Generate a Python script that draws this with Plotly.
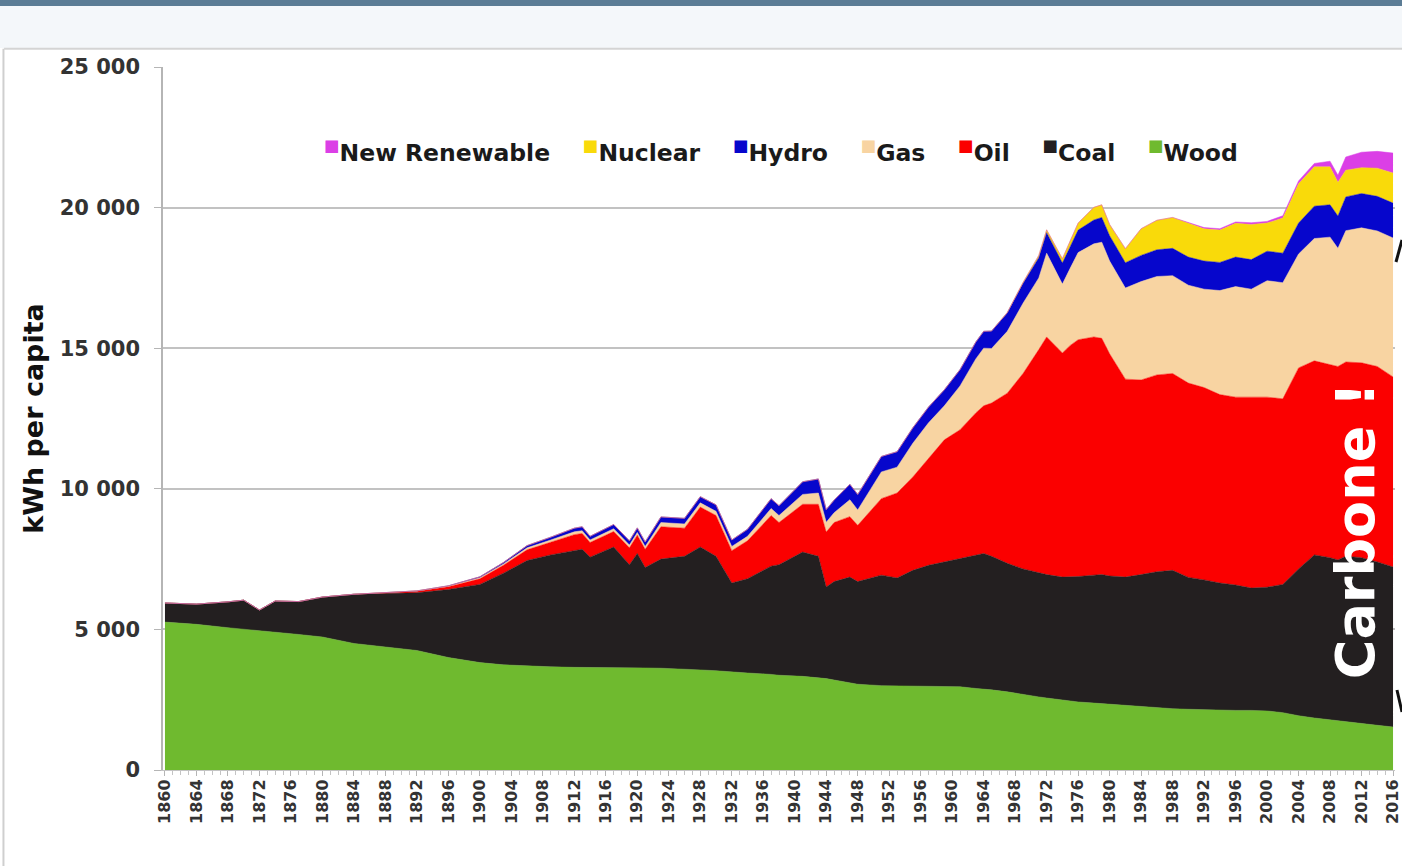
import plotly.graph_objects as go

# world primary energy per capita (kWh per capita, stacked)
years = [
    1860, 1864, 1868, 1870, 1872, 1874, 1877, 1880, 1884, 1888,
    1892, 1896, 1900, 1903, 1906, 1909, 1912, 1913, 1914, 1917,
    1919, 1920, 1921, 1923, 1926, 1928, 1930, 1932, 1934, 1937,
    1938, 1941, 1943, 1944, 1945, 1947, 1948, 1951, 1953, 1955,
    1957, 1959, 1961, 1963, 1964, 1965, 1967, 1969, 1971, 1972,
    1974, 1975, 1976, 1978, 1979, 1980, 1982, 1984, 1986, 1988,
    1990, 1992, 1994, 1996, 1998, 2000, 2002, 2004, 2006, 2008,
    2009, 2010, 2012, 2014, 2016,
]
wood = [
    5260, 5180, 5060, 5000, 4950, 4900, 4820, 4730, 4500, 4380,
    4250, 4000, 3820, 3740, 3700, 3670, 3650, 3650, 3650, 3640,
    3640, 3630, 3630, 3620, 3600, 3560, 3530, 3480, 3450, 3400,
    3370, 3330, 3280, 3250, 3200, 3100, 3050, 3000, 2990, 2990,
    2990, 2980, 2960, 2900, 2880, 2850, 2780, 2680, 2600, 2560,
    2480, 2450, 2420, 2380, 2360, 2330, 2280, 2240, 2210, 2180,
    2160, 2140, 2130, 2120, 2120, 2100, 2040, 1930, 1850, 1780,
    1750, 1720, 1650, 1590, 1530,
]
coal = [
    680, 720, 920, 1040, 740, 1110, 1170, 1420, 1750, 1900,
    2050, 2420, 2780, 3260, 3750, 3980, 4170, 4200, 3920, 4290,
    3660, 4070, 3570, 3880, 4000, 4370, 4070, 3170, 3350, 3850,
    3930, 4420, 4320, 3260, 3500, 3760, 3650, 3930, 3840, 4110,
    4290, 4420, 4560, 4750, 4820, 4750, 4570, 4470, 4400, 4390,
    4380, 4410, 4460, 4550, 4590, 4570, 4580, 4710, 4840, 4920,
    4690, 4620, 4520, 4460, 4350, 4400, 4560, 5220, 5800, 5770,
    5720, 5880, 5900, 5810, 5690,
]
oil = [
    0, 0, 0, 0, 0, 0, 0, 0, 0, 30,
    60, 100, 200, 280, 380, 450, 550, 560, 520, 550,
    600, 650, 650, 1150, 1000, 1420, 1450, 1150, 1350, 1800,
    1500, 1700, 1850, 1950, 2100, 2150, 2000, 2720, 3020, 3320,
    3820, 4340, 4580, 5050, 5250, 5450, 6050, 6950, 7950, 8450,
    7970, 8240, 8420, 8470, 8400, 7900, 7040, 6920, 7000, 7000,
    6910, 6840, 6700, 6680, 6790, 6760, 6600, 7150, 6900, 6850,
    6880, 6910, 6930, 6950, 6760,
]
gas = [
    0, 0, 0, 0, 0, 0, 0, 0, 0, 0,
    10, 20, 40, 50, 70, 80, 100, 100, 90, 100,
    100, 100, 100, 150, 150, 150, 150, 150, 160, 250,
    250, 350, 400, 350, 350, 600, 550, 950, 920, 1200,
    1250, 1210, 1560, 1920, 2050, 1940, 2200, 2500, 2550, 2980,
    2450, 2750, 3100, 3310, 3420, 3300, 3240, 3500, 3500, 3480,
    3480, 3500, 3700, 3930, 3840, 4140, 4130, 4050, 4350, 4550,
    4200, 4670, 4800, 4820, 4940,
]
hydro = [
    0, 0, 0, 0, 0, 0, 0, 0, 0, 0,
    0, 10, 30, 50, 80, 100, 130, 140, 130, 150,
    150, 160, 160, 200, 200, 220, 230, 230, 250, 350,
    350, 450, 500, 450, 450, 550, 550, 550, 550, 550,
    560, 570, 580, 600, 600, 620, 650, 700, 720, 730,
    750, 770, 800, 850, 880, 900, 900, 930, 950, 970,
    1000, 1000, 1000, 1050, 1050, 1050, 1050, 1100, 1150, 1150,
    1150, 1200, 1220, 1230, 1240,
]
nuclear = [
    0, 0, 0, 0, 0, 0, 0, 0, 0, 0,
    0, 0, 0, 0, 0, 0, 0, 0, 0, 0,
    0, 0, 0, 0, 0, 0, 0, 0, 0, 0,
    0, 0, 0, 0, 0, 0, 0, 0, 0, 0,
    0, 0, 0, 0, 0, 0, 20, 40, 80, 100,
    150, 200, 250, 450, 450, 400, 500, 950, 1050, 1100,
    1200, 1150, 1150, 1200, 1250, 1000, 1250, 1400, 1400, 1350,
    1200, 950, 920, 1000, 1070,
]
new_renewable = [
    0, 0, 0, 0, 0, 0, 0, 0, 0, 0,
    0, 0, 0, 0, 0, 0, 0, 0, 0, 0,
    0, 0, 0, 0, 0, 0, 0, 0, 0, 0,
    0, 0, 0, 0, 0, 0, 0, 0, 0, 0,
    0, 0, 0, 0, 0, 0, 0, 0, 0, 0,
    0, 0, 0, 0, 0, 0, 0, 0, 0, 0,
    30, 40, 50, 50, 60, 60, 80, 100, 120, 200,
    250, 470, 550, 600, 710,
]

# bottom -> top stacking order
series_names = ["Wood", "Coal", "Oil", "Gas", "Hydro", "Nuclear", "New Renewable"]
series_values = [wood, coal, oil, gas, hydro, nuclear, new_renewable]
series_colors = ["#6fba2f", "#231f20", "#fb0000", "#f8d4a2", "#0606cc", "#f9da0a", "#db3fe6"]

x_tick_years = list(range(1860, 2017, 4))
y_tick_vals = [0, 5000, 10000, 15000, 20000, 25000]
y_tick_text = ["0", "5 000", "10 000", "15 000", "20 000", "25 000"]

FONT = "DejaVu Sans"


def legend_text() -> str:
    # legend reads top layer first, like the original
    parts = []
    for name, color in zip(reversed(series_names), reversed(series_colors)):
        parts.append(f'<sup><span style="color:{color}">■</span></sup>{name}')
    return "&nbsp;&nbsp;&nbsp;&nbsp;".join(parts)


def make_figure() -> go.Figure:
    fig = go.Figure()
    for name, vals, color in zip(series_names, series_values, series_colors):
        fig.add_trace(
            go.Scatter(
                x=years,
                y=vals,
                name=name,
                mode="lines",
                stackgroup="energy",
                line=dict(width=0.5, color=color),
                fillcolor=color,
                showlegend=False,
            )
        )

    fig.update_xaxes(
        range=[1859.75, 2016.25],
        tickmode="array",
        tickvals=x_tick_years,
        ticktext=[str(y) for y in x_tick_years],
        tickangle=-90,
        tickfont=dict(family=FONT, size=16, color="#333333", weight="bold"),
        ticks="outside",
        ticklen=5,
        tickcolor="#b5b5b5",
        ticklabelstandoff=-3,
        ticklabeloverflow="allow",
        automargin=False,
        minor=dict(dtick=1, tick0=1860, ticks="outside", ticklen=4, tickcolor="#c4c4c4", showgrid=False),
        showline=True,
        linecolor="#c4c4c4",
        showgrid=False,
        zeroline=False,
    )
    fig.update_yaxes(
        range=[0, 25000],
        tickmode="array",
        tickvals=y_tick_vals,
        ticktext=y_tick_text,
        tickfont=dict(family=FONT, size=21, color="#333333", weight="bold"),
        ticks="outside",
        ticklen=7,
        tickcolor="#b5b5b5",
        ticklabelstandoff=10,
        automargin=False,
        showline=True,
        linecolor="#b5b5b5",
        linewidth=1.5,
        showgrid=True,
        gridcolor="#c2c2c2",
        gridwidth=1.5,
        zeroline=False,
        title=dict(
            text="kWh per capita",
            font=dict(family=FONT, size=27, color="#111111", weight="bold"),
            standoff=8,
        ),
    )

    fig.add_annotation(
        text=legend_text(),
        xref="paper", yref="paper",
        x=0.5016, y=0.880,
        xanchor="center", yanchor="middle",
        showarrow=False,
        font=dict(family=FONT, size=23.5, color="#1a1a1a", weight="bold"),
    )
    fig.add_annotation(
        text="Carbone !",
        xref="paper", yref="paper",
        x=0.9675, y=0.341,
        xanchor="center", yanchor="middle",
        textangle=-90,
        showarrow=False,
        font=dict(family=FONT, size=54, color="#ffffff", weight="bold"),
    )

    # slide chrome around the chart
    fig.add_shape(type="rect", xref="paper", yref="paper",
                  x0=-0.14, x1=1.01, y0=1.0868, y1=1.10,
                  fillcolor="#5b7c95", line_width=0, layer="above")
    fig.add_shape(type="rect", xref="paper", yref="paper",
                  x0=-0.14, x1=1.01, y0=1.027, y1=1.0868,
                  fillcolor="#f4f7fa", line_width=0, layer="above")
    fig.add_shape(type="line", xref="paper", yref="paper",
                  x0=-0.129, x1=1.01, y0=1.026, y1=1.026,
                  line=dict(color="#d4d4d4", width=2), layer="above")
    fig.add_shape(type="line", xref="paper", yref="paper",
                  x0=-0.1295, x1=-0.1295, y0=-0.14, y1=1.026,
                  line=dict(color="#cfcfcf", width=2), layer="above")
    # ends of the brace that is cut off at the right edge of the slide
    fig.add_shape(type="line", xref="paper", yref="paper",
                  x0=1.0008, y0=0.7226, x1=1.0057, y1=0.7539,
                  line=dict(color="#111111", width=3), layer="above")
    fig.add_shape(type="line", xref="paper", yref="paper",
                  x0=1.0016, y0=0.1138, x1=1.0057, y1=0.0825,
                  line=dict(color="#111111", width=3), layer="above")

    fig.update_layout(
        width=1402,
        height=866,
        margin=dict(l=163, r=7, t=67, b=96),
        paper_bgcolor="#ffffff",
        plot_bgcolor="#ffffff",
        showlegend=False,
        font=dict(family=FONT),
    )
    return fig


def main() -> int:
    fig = make_figure()
    # drop the browser's default body margin so the figure sits at the page corner
    fig.write_html(
        "out.html",
        config={"displayModeBar": False},
        post_script="document.body.style.margin = '0px';",
    )
    return 0


if __name__ == "__main__":
    raise SystemExit(main())
